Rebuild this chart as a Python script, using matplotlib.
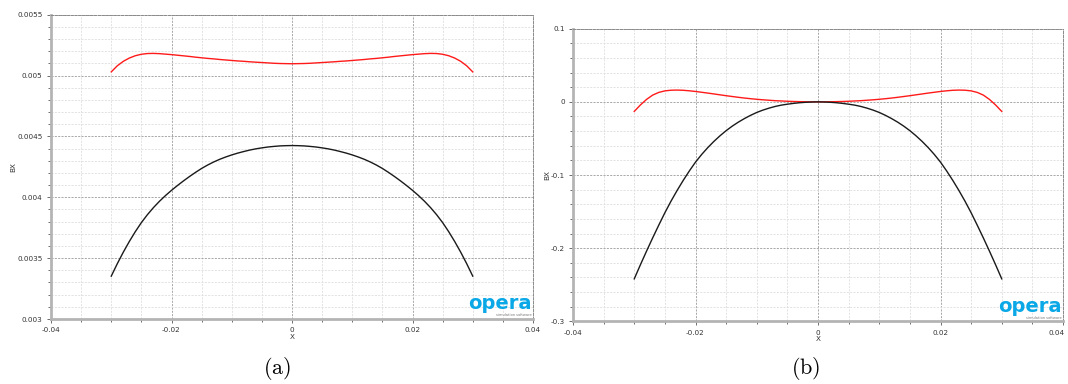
import matplotlib
matplotlib.use("Agg")
import matplotlib.pyplot as plt
from matplotlib.ticker import AutoMinorLocator, FuncFormatter
from matplotlib.transforms import ScaledTranslation

plt.rcParams["mathtext.fontset"] = "cm"

# Sample positions along X (m)
x_pos = [-0.030, -0.029, -0.028, -0.027, -0.026, -0.025, -0.024, -0.023, -0.022, -0.021,
         -0.020, -0.019, -0.018, -0.017, -0.016, -0.015, -0.014, -0.013, -0.012, -0.011,
         -0.010, -0.009, -0.008, -0.007, -0.006, -0.005, -0.004, -0.003, -0.002, -0.001,
         0.000,
         0.001, 0.002, 0.003, 0.004, 0.005, 0.006, 0.007, 0.008, 0.009, 0.010,
         0.011, 0.012, 0.013, 0.014, 0.015, 0.016, 0.017, 0.018, 0.019, 0.020,
         0.021, 0.022, 0.023, 0.024, 0.025, 0.026, 0.027, 0.028, 0.029, 0.030]

# Panel (a): BX along X
bx_a_red = [0.005030, 0.005080, 0.005117, 0.005144, 0.005163, 0.005175, 0.005181, 0.005182,
            0.005180, 0.005176, 0.005172, 0.005167, 0.005162, 0.005157, 0.005151, 0.005146,
            0.005141, 0.005137, 0.005132, 0.005128, 0.005124, 0.005120, 0.005117, 0.005113,
            0.005110, 0.005107, 0.005104, 0.005101, 0.005099, 0.005098,
            0.005097,
            0.005098, 0.005099, 0.005101, 0.005104, 0.005107, 0.005110, 0.005113, 0.005117,
            0.005120, 0.005124, 0.005128, 0.005132, 0.005137, 0.005141, 0.005146, 0.005151,
            0.005157, 0.005162, 0.005167, 0.005172, 0.005176, 0.005180, 0.005182, 0.005181,
            0.005175, 0.005163, 0.005144, 0.005117, 0.005080, 0.005030]
bx_a_black = [0.003352, 0.003454, 0.003549, 0.003637, 0.003718, 0.003792, 0.003857, 0.003915,
              0.003967, 0.004014, 0.004057, 0.004097, 0.004135, 0.004171, 0.004205, 0.004237,
              0.004265, 0.004290, 0.004312, 0.004331, 0.004348, 0.004363, 0.004376, 0.004388,
              0.004398, 0.004406, 0.004413, 0.004418, 0.004422, 0.004424,
              0.004425,
              0.004424, 0.004422, 0.004418, 0.004413, 0.004406, 0.004398, 0.004388, 0.004376,
              0.004363, 0.004348, 0.004331, 0.004312, 0.004290, 0.004265, 0.004237, 0.004205,
              0.004171, 0.004135, 0.004097, 0.004057, 0.004014, 0.003967, 0.003915, 0.003857,
              0.003792, 0.003718, 0.003637, 0.003549, 0.003454, 0.003352]

# Panel (b): BX along X
bx_b_red = [-0.0131, -0.0043, 0.0033, 0.0092, 0.0129, 0.0150, 0.0159, 0.0161, 0.0158, 0.0151,
            0.0142, 0.0131, 0.0120, 0.0108, 0.0096, 0.0084, 0.0073, 0.0062, 0.0052, 0.0043,
            0.0035, 0.0028, 0.0022, 0.0016, 0.0012, 0.0008, 0.0005, 0.0003, 0.0001, 0.0000,
            0.0000,
            0.0000, 0.0001, 0.0003, 0.0005, 0.0008, 0.0012, 0.0016, 0.0022, 0.0028, 0.0035,
            0.0043, 0.0052, 0.0062, 0.0073, 0.0084, 0.0096, 0.0108, 0.0120, 0.0131, 0.0142,
            0.0151, 0.0158, 0.0161, 0.0159, 0.0150, 0.0129, 0.0092, 0.0033, -0.0043, -0.0131]
bx_b_black = [-0.2420, -0.2228, -0.2042, -0.1861, -0.1686, -0.1516, -0.1358, -0.1211, -0.1073,
              -0.0944, -0.0824, -0.0720, -0.0626, -0.0541, -0.0464, -0.0394, -0.0332, -0.0277,
              -0.0228, -0.0184, -0.0145, -0.0113, -0.0086, -0.0063, -0.0045, -0.0032, -0.0021,
              -0.0012, -0.0006, -0.0002,
              0.0000,
              -0.0002, -0.0006, -0.0012, -0.0021, -0.0032, -0.0045, -0.0063, -0.0086, -0.0113,
              -0.0145, -0.0184, -0.0228, -0.0277, -0.0332, -0.0394, -0.0464, -0.0541, -0.0626,
              -0.0720, -0.0824, -0.0944, -0.1073, -0.1211, -0.1358, -0.1516, -0.1686, -0.1861,
              -0.2042, -0.2228, -0.2420]

x_ticks = [-0.04, -0.02, 0.0, 0.02, 0.04]
y_ticks_a = [0.003, 0.0035, 0.004, 0.0045, 0.005, 0.0055]
y_ticks_b = [-0.3, -0.2, -0.1, 0.0, 0.1]

TICK_FS = 5.2
LOGO_BLUE = "#0aa8e6"


def fmt(v, _pos=None):
    if abs(v) < 1e-12:
        return "0"
    return "%g" % v


def style_axes(ax, yticks, ylabel_x):
    ax.set_xlim(-0.04, 0.04)
    ax.set_ylim(yticks[0], yticks[-1])
    ax.set_xticks(x_ticks)
    ax.set_yticks(yticks)
    ax.xaxis.set_minor_locator(AutoMinorLocator(4))
    ax.yaxis.set_minor_locator(AutoMinorLocator(5))
    ax.xaxis.set_major_formatter(FuncFormatter(fmt))
    ax.yaxis.set_major_formatter(FuncFormatter(fmt))
    ax.grid(which="major", color="#9a9a9a", linestyle=(0, (2.5, 1.5)), linewidth=0.6)
    ax.grid(which="minor", color="#dedede", linestyle=(0, (2.5, 1.5)), linewidth=0.6)
    ax.set_axisbelow(True)
    for side in ("top", "right"):
        ax.spines[side].set_color("#8a8a8a")
        ax.spines[side].set_linestyle((0, (2.5, 1.5)))
        ax.spines[side].set_linewidth(0.7)
    for side in ("left", "bottom"):
        ax.spines[side].set_color("#b4b4b4")
        ax.spines[side].set_linewidth(2.0)
    ax.tick_params(which="both", direction="out", colors="#555555", labelsize=TICK_FS,
                   labelcolor="#333333", width=0.6, top=False, right=False)
    ax.tick_params(which="major", length=3.0, pad=3.0)
    ax.tick_params(which="minor", length=2.2)
    ax.set_xlabel("X", fontsize=TICK_FS, color="#333333", labelpad=0.3)
    ax.set_ylabel("BX", fontsize=TICK_FS, color="#333333")
    ax.yaxis.set_label_coords(ylabel_x, 0.5)


def add_logo(ax):
    ax.text(0.998, 0.032, "opera", transform=ax.transAxes, ha="right", va="baseline",
            fontsize=14, fontweight="bold", color=LOGO_BLUE, family="DejaVu Sans")
    ax.text(0.998, 0.006, "simulation software", transform=ax.transAxes, ha="right",
            va="bottom", fontsize=2.6, color="#7a7a7a")


fig = plt.figure(figsize=(10.68, 3.84), dpi=100)

ax_a = fig.add_axes([51 / 1068, 65 / 384, 482 / 1068, 304.3 / 384])
ax_a.plot(x_pos, bx_a_red, color="#ff1a1a", linewidth=1.0)
ax_a.plot(x_pos, bx_a_black, color="#1a1a1a", linewidth=1.0)
style_axes(ax_a, y_ticks_a, -0.073)
add_logo(ax_a)

ax_b = fig.add_axes([573 / 1068, 62.7 / 384, 490 / 1068, 292.6 / 384])
ax_b.plot(x_pos, bx_b_red, color="#ff1a1a", linewidth=1.0)
ax_b.plot(x_pos, bx_b_black, color="#1a1a1a", linewidth=1.0)
style_axes(ax_b, y_ticks_b, -0.047)
add_logo(ax_b)

# keep the last x tick label of panel (b) inside the figure edge
fig.canvas.draw()
last_label = ax_b.get_xticklabels()[-1]
last_label.set_transform(last_label.get_transform()
                         + ScaledTranslation(-6 / 100, 0, fig.dpi_scale_trans))

fig.text(277 / 1068, 1 - 369 / 384, r"$\mathrm{(a)}$", ha="center", va="center", fontsize=16)
fig.text(806 / 1068, 1 - 369 / 384, r"$\mathrm{(b)}$", ha="center", va="center", fontsize=16)

fig.savefig("out.png", dpi=100)
